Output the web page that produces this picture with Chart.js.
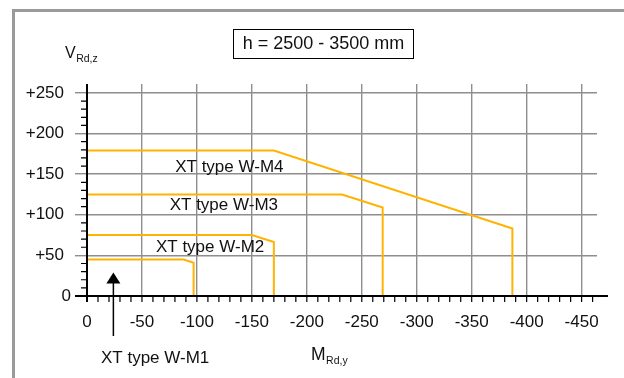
<!DOCTYPE html>
<html>
<head>
<meta charset="utf-8">
<script src="https://cdn.jsdelivr.net/npm/chart.js@4.4.1/dist/chart.umd.min.js"></script>
<style>
  html, body { margin: 0; padding: 0; background: #fff; }
  #wrap { width: 624px; height: 378px; }
</style>
</head>
<body>
<div id="wrap"><canvas id="chart" width="624" height="378"></canvas></div>
<script>
// corner points of each curve: moment M_Rd,y and shear V_Rd,z
const m1M = [0, -88, -97, -97];
const m1V = [45, 45, 41, 0];
const m2M = [0, -150, -170, -170];
const m2V = [75, 75, 66.5, 0];
const m3M = [0, -232, -269, -269];
const m3V = [125, 125, 109, 0];
const m4M = [0, -170, -387, -387];
const m4V = [179, 179, 83, 0];

const seriesNames = ['XT type W-M1', 'XT type W-M2', 'XT type W-M3', 'XT type W-M4'];
const xTicks = [0, -50, -100, -150, -200, -250, -300, -350, -400, -450];
const yTicks = [0, 50, 100, 150, 200, 250];
const yTickLabels = ['0', '+50', '+100', '+150', '+200', '+250'];
const boxText = 'h = 2500 - 3500 mm';

// use the narrow face when it is installed, it is closer to the original
function hasFont(name) {
    const c = document.createElement('canvas').getContext('2d');
    const s = 'XT type W-M4 0123456789';
    c.font = '20px monospace';
    const w1 = c.measureText(s).width;
    c.font = '20px "' + name + '", monospace';
    return Math.abs(c.measureText(s).width - w1) > 0.5;
}
const NARROW = hasFont('Liberation Sans Narrow');
const FONT = NARROW ? '"Liberation Sans Narrow", "Liberation Sans", sans-serif' : '"Liberation Sans", Arial, sans-serif';
const K = NARROW ? 1.18 : 1;
const ORANGE = '#FFB300';
const GRID = '#8e8e8e';

function pts(ms, vs) {
    return ms.map((m, i) => ({ x: m, y: vs[i] }));
}

const curves = [[m1M, m1V], [m2M, m2V], [m3M, m3V], [m4M, m4V]];

// extra drawing: frame, minor ticks, axes, arrow, texts
const decor = {
    id: 'decor',
    afterDraw(chart) {
        const { ctx, chartArea: a, scales: { x, y } } = chart;
        const x0 = x.getPixelForValue(0);
        const y0 = y.getPixelForValue(0);
        ctx.save();

        // outer frame
        ctx.strokeStyle = '#9a9a9a';
        ctx.lineWidth = 3;
        ctx.beginPath();
        ctx.moveTo(13.5, 378);
        ctx.lineTo(13.5, 10.5);
        ctx.lineTo(624, 10.5);
        ctx.stroke();

        // minor ticks
        ctx.strokeStyle = '#000';
        ctx.lineWidth = 1.2;
        ctx.beginPath();
        for (let v = 10; v < 250; v += 10) {
            if (v % 50 === 0) continue;
            const py = y.getPixelForValue(v);
            ctx.moveTo(a.left - 6, py);
            ctx.lineTo(a.left, py);
        }
        for (let m = 0; m >= -460; m -= 10) {
            const px = x.getPixelForValue(m);
            ctx.moveTo(px, a.bottom);
            ctx.lineTo(px, a.bottom + 6);
        }
        ctx.stroke();

        // axes
        ctx.lineWidth = 2;
        ctx.beginPath();
        ctx.moveTo(a.left - 12, y0);
        ctx.lineTo(a.right + 11, y0);
        ctx.moveTo(x0, a.top);
        ctx.lineTo(x0, y0 + 6);
        ctx.stroke();

        // arrow pointing at W-M1
        const ax = x.getPixelForValue(-24);
        const tip = y.getPixelForValue(29);
        ctx.fillStyle = '#000';
        ctx.beginPath();
        ctx.moveTo(ax, tip);
        ctx.lineTo(ax + 7, tip + 11);
        ctx.lineTo(ax - 7, tip + 11);
        ctx.closePath();
        ctx.fill();
        ctx.lineWidth = 1.5;
        ctx.beginPath();
        ctx.moveTo(ax, tip + 10);
        ctx.lineTo(ax, y0 + 40);
        ctx.stroke();

        // curve names
        const nameM = [-62, -112, -124.5, -129.5];
        const nameV = [-77, 60, 112, 158];
        ctx.fillStyle = '#111';
        ctx.font = (17 * K) + 'px ' + FONT;
        ctx.textAlign = 'center';
        ctx.textBaseline = 'middle';
        seriesNames.forEach((n, i) => {
            ctx.fillText(n, x.getPixelForValue(nameM[i]), y.getPixelForValue(nameV[i]));
        });

        // y "0" label sits closer to the axis
        ctx.textAlign = 'right';
        ctx.fillText(yTickLabels[0], 71, y0);

        // height box
        ctx.lineWidth = 1;
        ctx.strokeStyle = '#000';
        ctx.strokeRect(233.5, 29.5, 180, 29);
        ctx.font = (18 * K) + 'px ' + FONT;
        ctx.textAlign = 'center';
        ctx.fillText(boxText, 323.5, 44.5);

        // axis titles
        ctx.textAlign = 'left';
        ctx.textBaseline = 'alphabetic';
        ctx.font = (16 * K) + 'px ' + FONT;
        ctx.fillText('V', 65, 57.5);
        const vw = ctx.measureText('V').width;
        ctx.font = (10.5 * K) + 'px ' + FONT;
        ctx.fillText('Rd,z', 65 + vw + 0.5, 61.5);
        ctx.font = (17.5 * K) + 'px ' + FONT;
        ctx.fillText('M', 311, 360);
        const mw = ctx.measureText('M').width;
        ctx.font = (10.5 * K) + 'px ' + FONT;
        ctx.fillText('Rd,y', 311 + mw + 0.5, 363.5);

        ctx.restore();
    }
};

new Chart(document.getElementById('chart'), {
    type: 'line',
    data: {
        datasets: curves.map((c, i) => ({
            label: seriesNames[i],
            data: pts(c[0], c[1]),
            borderColor: ORANGE,
            borderWidth: 2,
            pointRadius: 0,
            tension: 0,
            fill: false
        }))
    },
    options: {
        responsive: false,
        animation: false,
        devicePixelRatio: 1,
        layout: { padding: { top: 84, right: 27, left: 0, bottom: 0 } },
        plugins: { legend: { display: false }, tooltip: { enabled: false } },
        scales: {
            x: {
                type: 'linear',
                min: -464,
                max: 0,
                reverse: true,
                afterBuildTicks: s => { s.ticks = xTicks.map(v => ({ value: v })); },
                afterFit: s => { s.height = 82; s.paddingLeft = 0; s.paddingRight = 0; },
                border: { display: false },
                grid: {
                    color: c => (c.tick && c.tick.value === 0) ? 'rgba(0,0,0,0)' : GRID,
                    lineWidth: 1.4,
                    drawTicks: false
                },
                ticks: {
                    font: { family: FONT, size: 17 * K },
                    color: '#111',
                    padding: 16 - (K - 1) * 10,
                    maxRotation: 0,
                    autoSkip: false,
                    callback: v => String(v)
                }
            },
            y: {
                type: 'linear',
                min: 0,
                max: 261,
                afterBuildTicks: s => { s.ticks = yTicks.map(v => ({ value: v })); },
                afterFit: s => { s.width = 87; },
                border: { display: false },
                grid: {
                    color: c => (c.tick && c.tick.value === 0) ? 'rgba(0,0,0,0)' : GRID,
                    lineWidth: 1.4,
                    tickLength: 12
                },
                ticks: {
                    font: { family: FONT, size: 17 * K },
                    color: '#111',
                    padding: 11,
                    autoSkip: false,
                    callback: (v, i) => (v === 0 ? '' : yTickLabels[i])
                }
            }
        }
    },
    plugins: [decor]
});
</script>
</body>
</html>
